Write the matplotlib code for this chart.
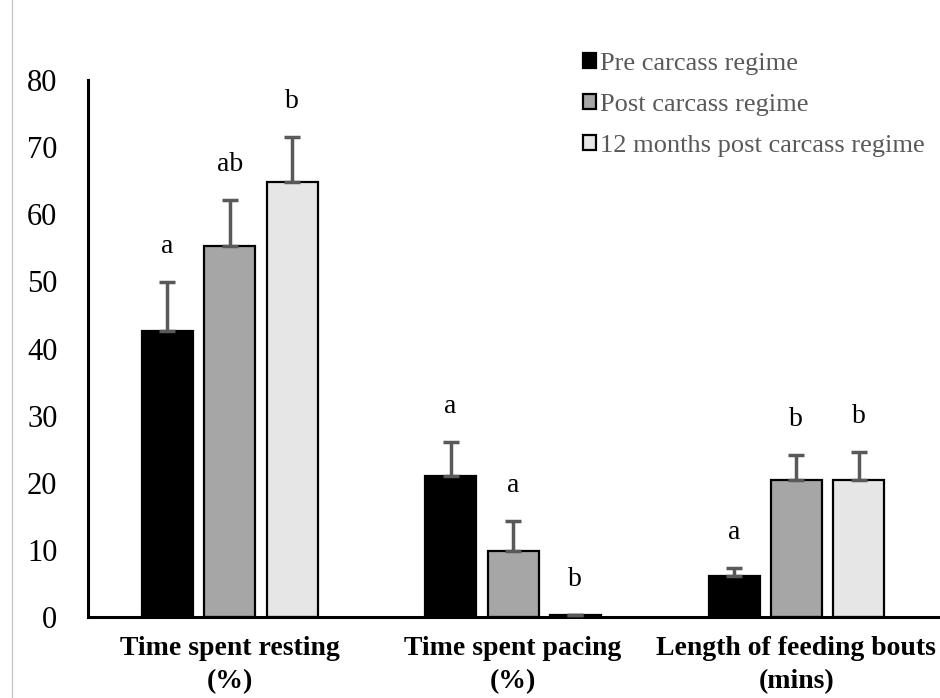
import matplotlib
matplotlib.use("Agg")
import matplotlib.pyplot as plt
from matplotlib.lines import Line2D
import numpy as np

categories = ["Time spent resting\n(%)", "Time spent pacing\n(%)", "Length of feeding bouts\n(mins)"]
series_names = ["Pre carcass regime", "Post carcass regime", "12 months post carcass regime"]
pre_vals = [42.6, 21.0, 6.1]
post_vals = [55.3, 9.8, 20.4]
post12_vals = [64.8, 0.3, 20.4]
pre_err = [7.3, 5.1, 1.2]
post_err = [6.8, 4.5, 3.7]
post12_err = [6.7, 0.0, 4.2]
pre_letters = ["a", "a", "a"]
post_letters = ["ab", "a", "b"]
post12_letters = ["b", "b", "b"]
yticks = [0, 10, 20, 30, 40, 50, 60, 70, 80]

colors = ["#000000", "#a6a6a6", "#e6e6e6"]
serif = ["Liberation Serif", "DejaVu Serif"]

fig = plt.figure(figsize=(9.4, 6.98), dpi=100)
ax = fig.add_axes([88/940, 1-617/698, 850/940, 537/698])

x = np.arange(len(categories))
width = 0.18
step = 0.22
vals = [pre_vals, post_vals, post12_vals]
errs = [pre_err, post_err, post12_err]
letters = [pre_letters, post_letters, post12_letters]
for i in range(3):
    xs = x + (i - 1) * step
    ax.bar(xs, vals[i], width=width, color=colors[i], edgecolor="black",
           linewidth=1.6, label=series_names[i], zorder=2)
    v = np.array(vals[i]); e = np.array(errs[i])
    ax.errorbar(xs, v, yerr=[np.zeros_like(e), e], fmt="none", ecolor="#595959",
                elinewidth=2.5, capsize=6, capthick=2.5, zorder=3)
    for xi, vi, ei, lt in zip(xs, v, e, letters[i]):
        ax.text(xi, vi + ei + 5.3, lt, ha="center", va="center",
                fontsize=20, family=serif, color="#000000")

ax.set_xlim(-0.5, 2.5)
ax.set_ylim(0, 80)
ax.set_yticks(yticks)
ax.set_yticklabels([str(t) for t in yticks], family=serif, fontsize=22)
ax.set_xticks(x)
ax.set_xticklabels(categories, family=serif, fontsize=20, fontweight="bold",
                   linespacing=1.4)
ax.tick_params(axis="y", length=0, pad=22)
ax.tick_params(axis="x", length=0, pad=14)
for s in ["top", "right"]:
    ax.spines[s].set_visible(False)
for s in ["left", "bottom"]:
    ax.spines[s].set_linewidth(2.2)
    ax.spines[s].set_color("black")

leg = fig.legend(loc="upper left", bbox_to_anchor=(572/940, 1-42/698),
                 frameon=False, prop={"family": serif, "size": 19},
                 handlelength=0.52, handleheight=0.52, handletextpad=0.15,
                 labelspacing=0.72, borderaxespad=0)
for t in leg.get_texts():
    t.set_color("#595959")

fig.add_artist(Line2D([12/940, 12/940], [0, 1], color="#c8c8c8", linewidth=1,
                      transform=fig.transFigure))

fig.savefig("out.png", dpi=100)
